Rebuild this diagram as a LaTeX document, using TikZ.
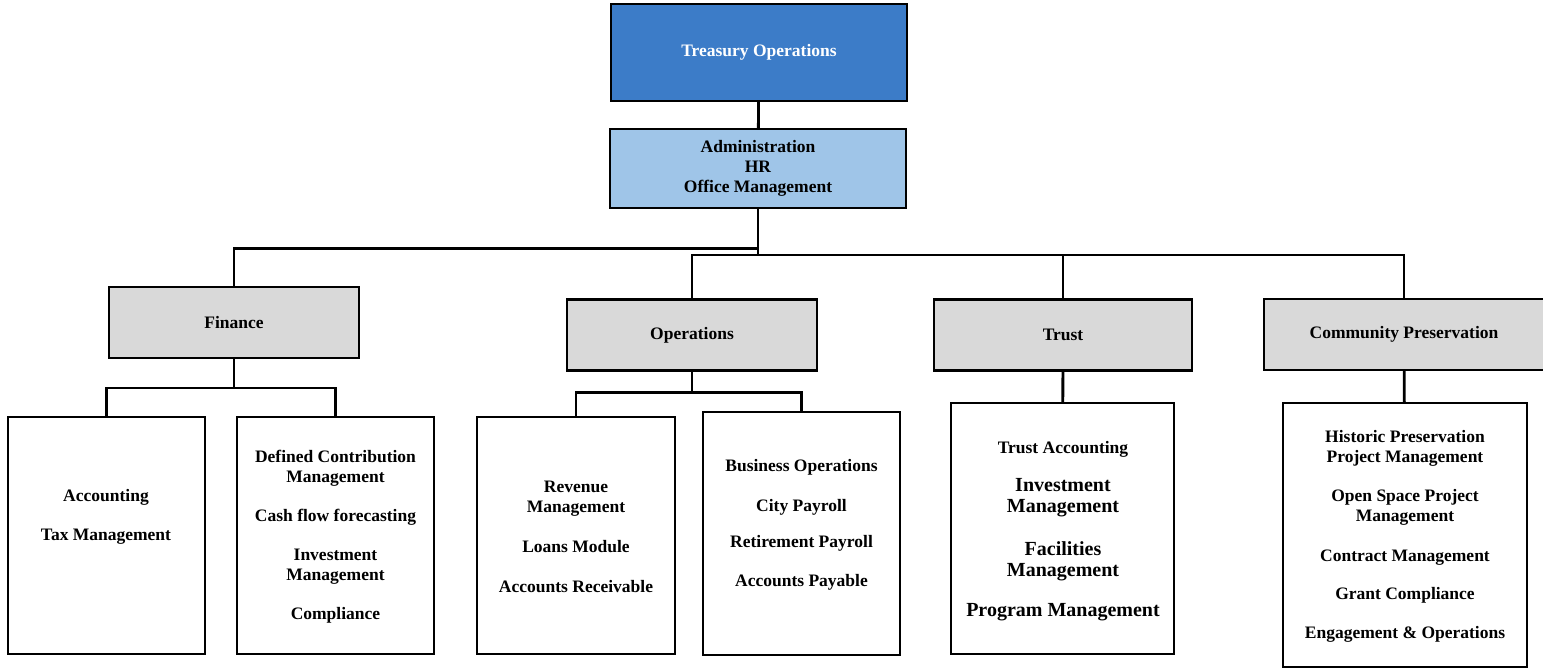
\documentclass[tikz,border=0pt]{standalone}
\usepackage{fontspec}
\setmainfont{Liberation Serif}
\usetikzlibrary{positioning}

\definecolor{topblue}{HTML}{3C7CC8}
\definecolor{adminblue}{HTML}{9FC5E8}
\definecolor{deptgray}{HTML}{D9D9D9}
\newcommand{\bigline}{\fontsize{20}{21}\selectfont}

\begin{document}
\begin{tikzpicture}[x=1pt, y=-1pt,
  box/.style={draw=black, line width=2.8pt, inner sep=0pt, outer sep=0pt, align=center,
    font=\bfseries\fontsize{17.5}{20}\selectfont},
  dept/.style={box, fill=deptgray, minimum height=71pt},
  leaf/.style={box, fill=white},
  items/.style={align=center, inner sep=0pt, font=\bfseries\fontsize{17.5}{20}\selectfont},
  link/.style={line width=2.8pt}
]
\useasboundingbox[fill=white] (0,0) rectangle (1543,671);

\node[box, fill=topblue, text=white, minimum width=296pt, minimum height=97pt] at (759,52.5) (treasury) {Treasury Operations};
\node[box, fill=adminblue, minimum width=296pt, minimum height=79pt] at (758,168.5) (admin) {Administration\\HR\\Office Management};

\node[dept, minimum width=250pt] at (234,322.5) (finance) {Finance};
\node[dept, minimum width=250pt] at (692,335) (operations) {Operations};
\node[dept, minimum width=258pt] at (1063,335) (trust) {Trust};
\node[dept, minimum width=280pt] at (1404,334.5) (community) {Community Preservation};

\node[leaf, minimum width=197pt, minimum height=237pt] at (106.5,535.5) (acc) {};
\node[leaf, minimum width=197pt, minimum height=237pt] at (335.5,535.5) (dcm) {};
\node[leaf, minimum width=198pt, minimum height=237pt] at (576,535.5) (rev) {};
\node[leaf, minimum width=197pt, minimum height=243pt] at (801.5,533.5) (bus) {};
\node[leaf, minimum width=223pt, minimum height=251pt] at (1062.5,528.5) (trl) {};
\node[leaf, minimum width=244pt, minimum height=264pt] at (1405,535) (cpl) {};

\node[items] at (106,517) (acc_txt) {Accounting\\[19pt]Tax Management};
\node[items] at (335.5,536.5) (dcm_txt) {Defined Contribution\\Management\\[19pt]Cash flow forecasting\\[19pt]Investment\\Management\\[19pt]Compliance};
\node[items] at (576,536.5) (rev_txt) {Revenue\\Management\\[20pt]Loans Module\\[20pt]Accounts Receivable};
\node[items] at (801.5,524.5) (bus_txt) {Business Operations\\[20pt]City Payroll\\[16pt]Retirement Payroll\\[19pt]Accounts Payable};
\node[items] at (1063,531) (trl_txt) {Trust Accounting\\[18pt]\bigline Investment\\[1pt]\bigline Management\\[23pt]\bigline Facilities\\[1pt]\bigline Management\\[20pt]\bigline Program Management};
\node[items] at (1405,536.5) (cpl_txt) {Historic Preservation\\Project Management\\[19pt]Open Space Project\\Management\\[20pt]Contract Management\\[18pt]Grant Compliance\\[19pt]Engagement \& Operations};

\coordinate (hub) at (758,255);
\coordinate (lbus) at (758,248.5);
\coordinate (finbus) at (234,388);
\coordinate (opsbus) at (692,392.5);

\draw[link] (treasury) -- (admin);
\draw[link] (admin) -- (hub);
\draw[link] (finance.north) |- (lbus);
\draw[link] (operations.north) |- (hub) -| (community.north);
\draw[link] (trust.north) -- (trust.north |- hub);

\draw[link] (finance) -- (finbus);
\draw[link] (acc.north) |- (finbus) -| (dcm.north);
\draw[link] (operations) -- (opsbus);
\draw[link] (rev.north) |- (opsbus) -| (bus.north);
\draw[link] (trust) -- (trl);
\draw[link] (community) -- (cpl);
\end{tikzpicture}
\end{document}
